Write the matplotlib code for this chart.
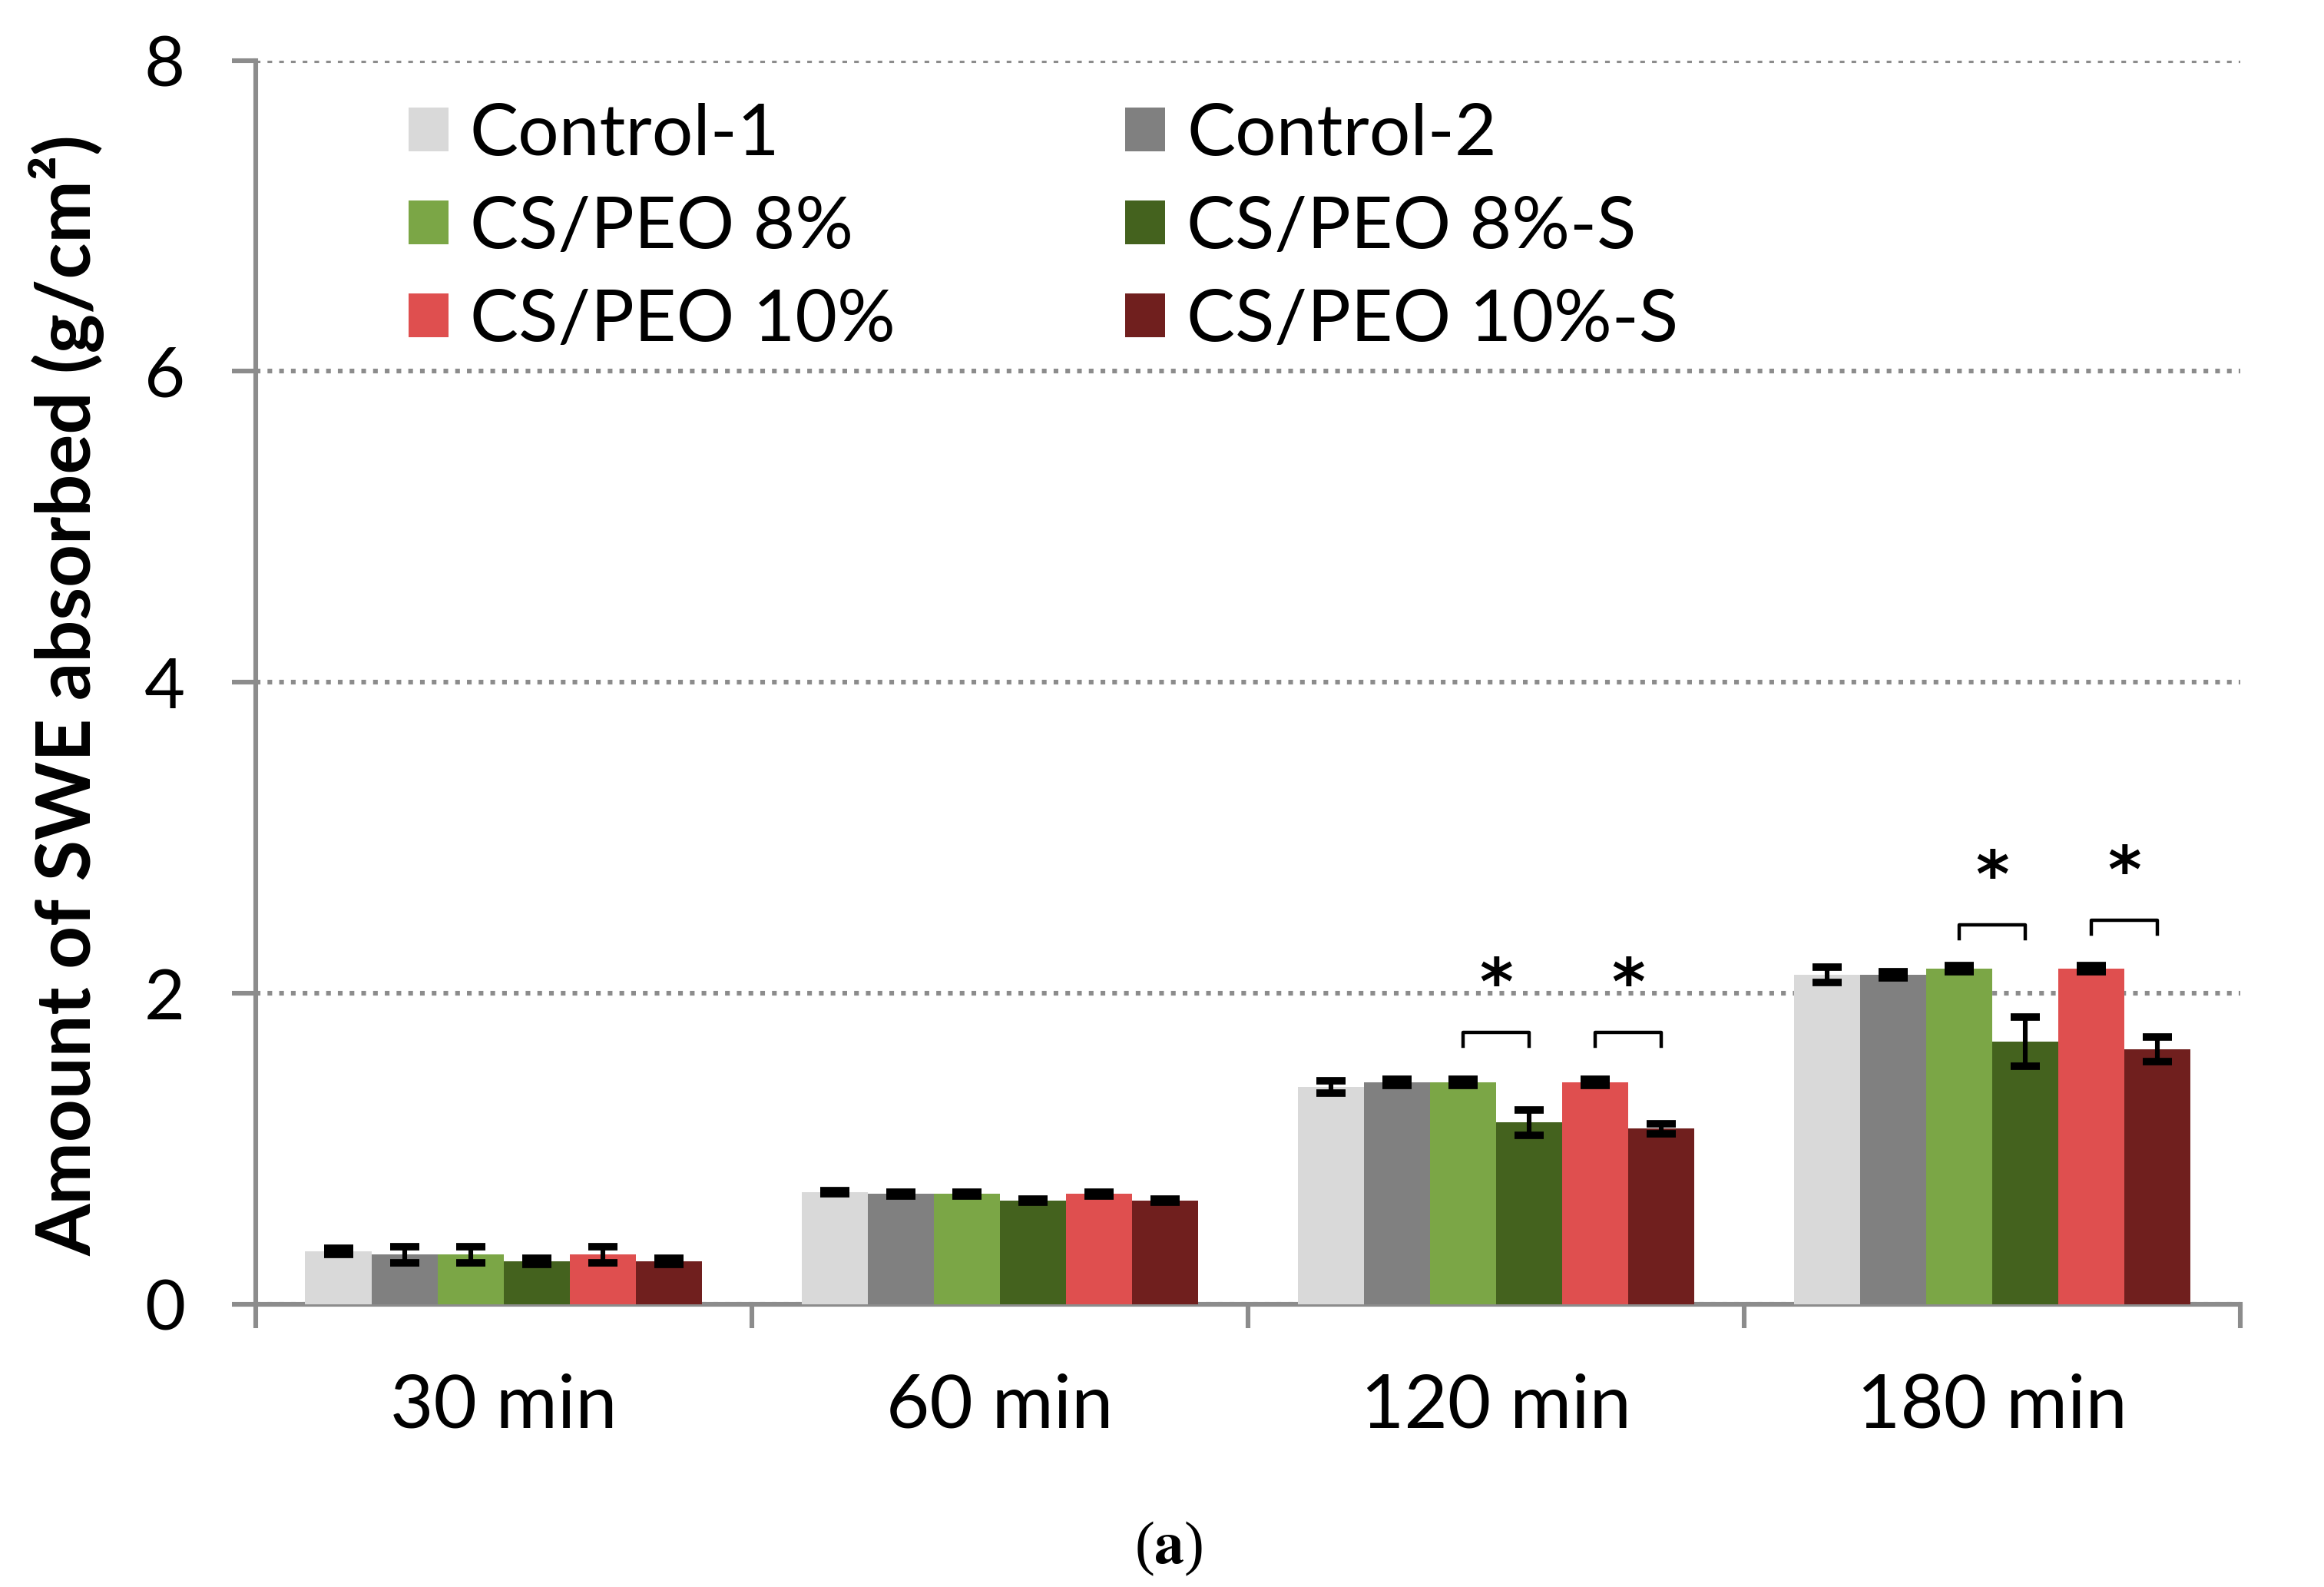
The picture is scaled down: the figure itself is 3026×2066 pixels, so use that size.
import numpy as np
import matplotlib
matplotlib.use("Agg")
import matplotlib.pyplot as plt

plt.rcParams['font.family'] = ['Lato', 'DejaVu Sans']
plt.rcParams['mathtext.fontset'] = 'stix'

# data
times = ['30 min', '60 min', '120 min', '180 min']
series = ['Control-1', 'Control-2', 'CS/PEO 8%', 'CS/PEO 8%-S', 'CS/PEO 10%', 'CS/PEO 10%-S']
colors = ['#D9D9D9', '#808080', '#7BA646', '#44621E', '#DF4F4F', '#701F1E']

ctrl1 = [0.34, 0.72, 1.40, 2.12]
ctrl2 = [0.32, 0.71, 1.43, 2.12]
cs8 = [0.32, 0.71, 1.43, 2.16]
cs8s = [0.28, 0.67, 1.17, 1.69]
cs10 = [0.32, 0.71, 1.43, 2.16]
cs10s = [0.28, 0.67, 1.13, 1.64]

ctrl1_err = [0.02, 0.01, 0.04, 0.05]
ctrl2_err = [0.05, 0.01, 0.02, 0.02]
cs8_err = [0.05, 0.01, 0.02, 0.02]
cs8s_err = [0.02, 0.01, 0.08, 0.16]
cs10_err = [0.05, 0.01, 0.02, 0.02]
cs10s_err = [0.02, 0.01, 0.03, 0.08]

values = [ctrl1, ctrl2, cs8, cs8s, cs10, cs10s]
errors = [ctrl1_err, ctrl2_err, cs8_err, cs8s_err, cs10_err, cs10s_err]

# significance brackets: (time index, series a, series b, bracket height)
sig_time = [2, 2, 3, 3]
sig_a = [2, 4, 2, 4]
sig_b = [3, 5, 3, 5]
sig_h = [1.75, 1.75, 2.44, 2.47]

fig = plt.figure(figsize=(15.13, 10.33), dpi=200)
ax = fig.add_axes([0.110, 0.178, 0.854, 0.784])

n = len(series)
w = 0.8 / n
centers = np.arange(len(times)) + 0.5
axcol = '#8C8C8C'

bars = []
for i in range(n):
    pos = centers + (i - (n - 1) / 2) * w
    b = ax.bar(pos, values[i], width=w, color=colors[i], label=series[i], zorder=3)
    bars.append(b)
    ax.errorbar(pos, values[i], yerr=errors[i], fmt='none', ecolor='black',
                elinewidth=2.2, capsize=7, capthick=3.5, zorder=4)

# brackets and stars
for t, a, b, h in zip(sig_time, sig_a, sig_b, sig_h):
    xa = centers[t] + (a - (n - 1) / 2) * w
    xb = centers[t] + (b - (n - 1) / 2) * w
    ax.plot([xa, xa, xb, xb], [h - 0.09, h, h, h - 0.09], color='black', lw=1.6, zorder=5)
    ax.text((xa + xb) / 2, h + 0.3, '*', ha='center', va='center', fontsize=30,
            fontweight='bold', family='DejaVu Sans')

ax.set_xlim(0, 4)
ax.set_ylim(0, 8)
ax.set_yticks([0, 2, 4, 6, 8])
ax.yaxis.grid(True, linestyle=(0, (1, 1.5)), color=axcol, lw=2.2, zorder=0)
ax.set_axisbelow(True)

ax.set_xticks([0, 1, 2, 3, 4])
ax.set_xticklabels([])
ax.set_xticks(centers, minor=True)
ax.set_xticklabels(times, minor=True, fontsize=35)
ax.tick_params(axis='x', which='minor', length=0, pad=32)
ax.tick_params(axis='x', which='major', length=11, width=2.2, color=axcol)
ax.tick_params(axis='y', length=11, width=2.2, color=axcol, labelsize=33, pad=22)

for s in ['top', 'right']:
    ax.spines[s].set_visible(False)
for s in ['left', 'bottom']:
    ax.spines[s].set_color(axcol)
    ax.spines[s].set_linewidth(2.2)

ax.set_ylabel('Amount of SWE absorbed (g/cm²)', fontsize=35, fontweight='bold')
ax.yaxis.set_label_coords(-0.076, 0.49)

# legend filled row by row
order = [0, 2, 4, 1, 3, 5]
ax.legend([bars[k] for k in order], [series[k] for k in order], ncol=2,
          loc='upper left', bbox_to_anchor=(0.044, 1.018), frameon=False,
          fontsize=34, handlelength=0.55, handleheight=0.55, handletextpad=0.3,
          labelspacing=0.39, columnspacing=3.17)

fig.text(0.503, 0.024, r'($\mathbf{a}$)', ha='center', va='center', fontsize=28,
         family='Liberation Serif')

fig.savefig('out.png', dpi=200)
